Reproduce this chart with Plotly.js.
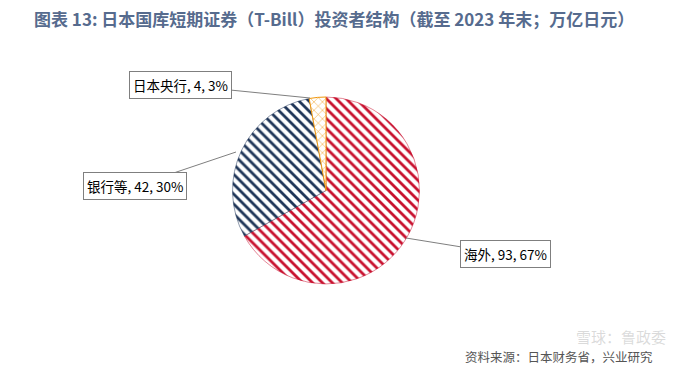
<!DOCTYPE html>
<html><head><meta charset="utf-8">
<script src="https://cdn.plot.ly/plotly-3.0.1.min.js"></script>
<style>html,body{margin:0;padding:0;background:#fff}#c{width:692px;height:368px}</style>
</head><body><div id="c"></div>
<script>
const labels = ["海外", "银行等", "日本央行"];
const values = [93, 42, 4];
const percents = ["67%", "30%", "3%"];
const colors = ["#c8102e", "#1f3558", "#f0960a"];
const shapes = ["\\", "\\", "x"];

const trace = {
  type: "pie",
  labels: labels,
  values: values,
  sort: false,
  direction: "clockwise",
  rotation: 0,
  textinfo: "none",
  hoverinfo: "label+value+percent",
  showlegend: false,
  domain: {x: [231/692, 421/692], y: [1 - 284/368, 1 - 97/368]},
  marker: {
    colors: colors.map(() => "#ffffff"),
    line: {color: ["#c8102e", "#1f3558", "#f0960a"], width: [0.5, 0.5, 1]},
    pattern: {
      shape: shapes,
      fgcolor: colors,
      bgcolor: "#ffffff",
      size: [7, 7, 6],
      solidity: [0.4, 0.4, 0.15]
    }
  }
};

function lbl(i) { return labels[i] + ", " + values[i] + ", " + percents[i]; }

const annFont = {family: "Noto Sans CJK SC", size: 13.5, color: "#000"};
const common = {xref: "paper", yref: "paper", showarrow: true, arrowhead: 0, arrowwidth: 1,
  arrowcolor: "#7f7f7f", bordercolor: "#7f7f7f", borderwidth: 1, borderpad: 3, bgcolor: "#fff", font: annFont};

const layout = {
  width: 692, height: 368,
  margin: {l: 0, r: 0, t: 0, b: 0},
  paper_bgcolor: "#fff",
  title: {text: "<b>图表 13: 日本国库短期证券（T-Bill）投资者结构（截至 2023 年末；万亿日元）</b>",
    x: 34/692, xanchor: "left", y: 1 - 20/368, yanchor: "middle",
    font: {family: "Noto Sans CJK SC", size: 17, color: "#566b8e"}},
  annotations: [
    Object.assign({}, common, {text: lbl(2), x: 310/692, y: 1 - 98/368, ax: -130, ay: -13}),
    Object.assign({}, common, {text: lbl(1), x: 236/692, y: 1 - 152/368, ax: -101, ay: 34}),
    Object.assign({}, common, {text: lbl(0), x: 406/692, y: 1 - 238/368, ax: 99, ay: 16}),
    {xref: "paper", yref: "paper", x: 655/692, y: 1 - 356/368, xanchor: "right", yanchor: "middle",
     showarrow: false, text: "资料来源：日本财务省，兴业研究",
     font: {family: "Noto Sans CJK SC", size: 12.5, color: "#555"}},
    {xref: "paper", yref: "paper", x: 668/692, y: 1 - 336/368, xanchor: "right", yanchor: "middle",
     showarrow: false, text: "雪球：鲁政委",
     font: {family: "Noto Sans CJK SC", size: 15, color: "rgba(150,150,150,0.35)"}}
  ]
};

Plotly.newPlot("c", [trace], layout, {displayModeBar: false, staticPlot: true});
</script></body></html>
